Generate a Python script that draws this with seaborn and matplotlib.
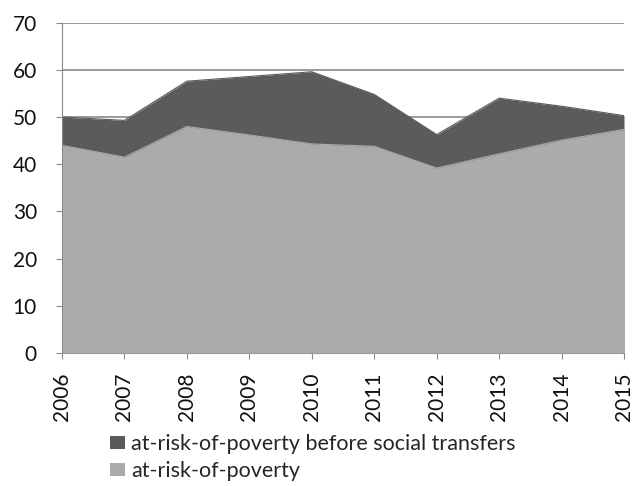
import matplotlib
matplotlib.use("Agg")
import matplotlib.pyplot as plt
from matplotlib.patches import Patch
import seaborn as sns
import pandas as pd

years = [2006, 2007, 2008, 2009, 2010, 2011, 2012, 2013, 2014, 2015]
before_transfers = [50.0, 49.3, 57.6, 58.6, 59.6, 54.8, 46.3, 54.0, 52.3, 50.3]
at_risk = [44.0, 41.5, 48.0, 46.2, 44.3, 43.8, 39.2, 42.2, 45.1, 47.4]
labels = ["at-risk-of-poverty before social transfers", "at-risk-of-poverty"]
yticks = [0, 10, 20, 30, 40, 50, 60, 70]

df = pd.DataFrame({"year": years, labels[0]: before_transfers, labels[1]: at_risk})

sns.set_style("white")
plt.rcParams["font.family"] = ["Lato", "DejaVu Sans"]

dark = "#5b5b5b"
light = "#ababab"

fig = plt.figure(figsize=(6.39, 4.86), dpi=100)
ax = fig.add_axes([0.097, 0.2737, 0.8795, 0.6796])

ax.fill_between(df["year"], 0, df[labels[0]], color=dark, linewidth=0, zorder=2)
ax.fill_between(df["year"], 0, df[labels[1]], color=light, linewidth=0, zorder=3)
sns.lineplot(data=df, x="year", y=labels[0], ax=ax, color=dark, linewidth=0.8, zorder=2)
sns.lineplot(data=df, x="year", y=labels[1], ax=ax, color=light, linewidth=0.8, zorder=3)

ax.set_xlim(years[0], years[-1])
ax.set_ylim(0, 70)
ax.set_yticks(yticks)
ax.set_yticklabels([str(v) for v in yticks], fontsize=15)
ax.set_xticks(years)
ax.set_xticklabels([str(y) for y in years], rotation=90, fontsize=15)
ax.set_xlabel("")
ax.set_ylabel("")
ax.yaxis.grid(True, color="#8a8a8a", linewidth=1.2, zorder=1)
ax.set_axisbelow(True)

for s in ["top", "right"]:
    ax.spines[s].set_visible(False)
ax.spines["left"].set_color("#8a8a8a")
ax.spines["bottom"].set_color("#8a8a8a")
ax.spines["left"].set_zorder(4)
ax.tick_params(axis="both", which="both", length=4, color="#8a8a8a", direction="out",
               left=True, bottom=True, labelcolor="#111111")
ax.tick_params(axis="x", pad=10)
ax.tick_params(axis="y", pad=14)

handles = [Patch(facecolor=dark, edgecolor="none"), Patch(facecolor=light, edgecolor="none")]
fig.legend(handles, labels, loc="upper left", bbox_to_anchor=(0.172, 0.106), frameon=False,
           fontsize=15.5, handlelength=0.7, handleheight=0.55, handletextpad=0.3,
           labelspacing=0.3, borderaxespad=0, borderpad=0, bbox_transform=fig.transFigure)

fig.savefig("out.png", dpi=100)
